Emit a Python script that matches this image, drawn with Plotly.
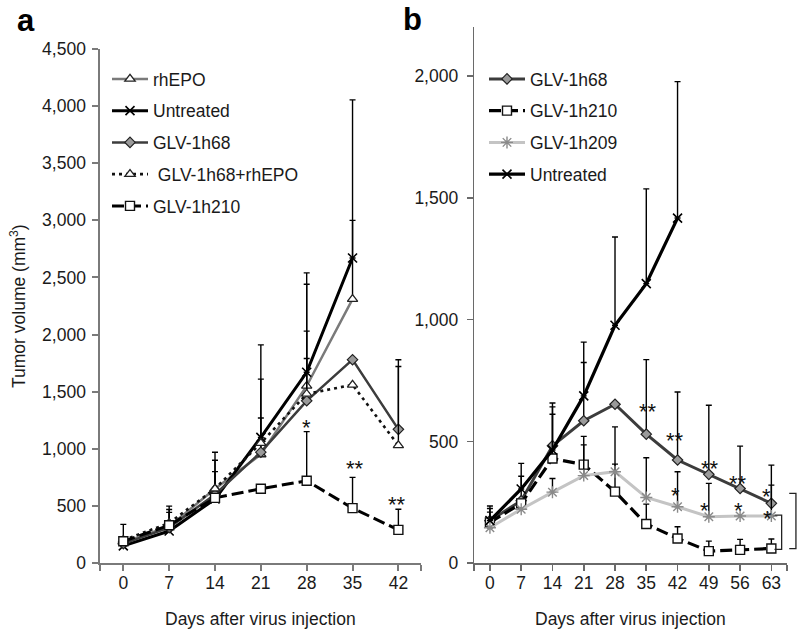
import plotly.graph_objects as go

# ---------------- data ----------------
days_a = [0, 7, 14, 21, 28, 35, 42]
rhepo_a = [180, 320, 650, 950, 1550, 2310]
untreated_a = [150, 280, 560, 1100, 1670, 2670]
h68_a = [170, 310, 600, 970, 1420, 1780, 1170]
h68_epo_a = [200, 350, 650, 1050, 1480, 1560, 1030]
h210_a = [190, 330, 570, 650, 720, 480, 290]

rhepo_a_err = [0, 178, 250, 660, 890, 690]
untreated_a_err = [0, 0, 410, 810, 870, 1385]
h68_a_err = [0, 133, 0, 300, 610, 0, 610]
h68_epo_a_err = [138, 119, 150, 0, 310, 0, 690]
h210_a_err = [0, 0, 0, 0, 430, 270, 180]

days_b = [0, 7, 14, 21, 28, 35, 42, 49, 56, 63]
h68_b = [175, 257, 482, 585, 653, 530, 424, 365, 307, 246]
h210_b = [168, 246, 430, 405, 294, 161, 102, 50, 55, 61]
h209_b = [146, 222, 292, 360, 376, 270, 232, 191, 194, 194]
untreated_b = [175, 305, 465, 687, 977, 1148, 1417]

h68_b_err = [50, 100, 160, 239, 0, 306, 279, 284, 174, 157]
h210_b_err = [42, 0, 182, 116, 113, 82, 48, 41, 43, 39]
h209_b_err = [0, 0, 56, 126, 184, 163, 144, 137, 0, 127]
untreated_b_err = [60, 105, 193, 221, 362, 389, 560]

stars_a_x = [28, 35.4, 41.8]
stars_a_y = [1215, 850, 542]
stars_a_t = ["*", "**", "**"]

stars_b_x = [35.3, 41.4, 49.3, 55.6, 61.9, 41.6, 48.1, 55.7, 62.1]
stars_b_y = [637, 517, 400, 339, 287, 290, 230, 230, 198]
stars_b_t = ["**", "**", "**", "**", "*", "*", "*", "*", "*"]

# brackets (days, value top, value bottom)
brackets_x0 = [67.0, 63.7]
brackets_x1 = [68.5, 65.3]
brackets_top = [287, 198]
brackets_bot = [60, 57]

# ---------------- layout helpers ----------------
W, H = 802, 630
FONT = "Liberation Sans, Arial, Helvetica, sans-serif"
FS = 17.5
TXT = "#1a1a1a"


def px(p):
    return p / W


def py(p):
    return 1 - p / H


XR_A = [-3.5, 45.5]
XR_B = [-3.5, 66.5]
DOM_XA = [px(100.4), px(421.3)]
DOM_XB = [px(474.3), px(787.0)]
DOM_YA = [py(563), py(49)]
DOM_YB = [py(563.3), py(27.3)]

fig = go.Figure()


def err(arr):
    return dict(type="data", array=arr, arrayminus=[0] * len(arr), symmetric=False,
                color="black", thickness=1.4, width=3)


def add(x, y, e, name, color, width, dash, symbol, msize, mfill, mline, mlw, xa, ya, legend):
    fig.add_trace(go.Scatter(
        x=x[:len(y)], y=y, mode="lines+markers", name=name,
        line=dict(color=color, width=width, dash=dash),
        marker=dict(symbol=symbol, size=msize, color=mfill,
                    line=dict(color=mline, width=mlw)),
        error_y=err(e), xaxis=xa, yaxis=ya, legend=legend, legendgroup=name + xa,
    ))


# panel a
add(days_a, rhepo_a, rhepo_a_err, "rhEPO", "#7a7a7a", 2.5, "solid", "triangle-up", 9,
    "white", "#222", 1.3, "x", "y", "legend")
add(days_a, untreated_a, untreated_a_err, "Untreated", "#000", 3, "solid", "x-thin", 9,
    "#000", "#000", 1.6, "x", "y", "legend")
add(days_a, h68_a, h68_a_err, "GLV-1h68", "#3c3c3c", 2.5, "solid", "diamond", 8,
    "#9a9a9a", "#222", 1.2, "x", "y", "legend")
add(days_a, h68_epo_a, h68_epo_a_err, " GLV-1h68+rhEPO", "#111", 2.6, "3px,4px",
    "triangle-up", 9, "white", "#222", 1.3, "x", "y", "legend")
add(days_a, h210_a, h210_a_err, "GLV-1h210", "#000", 3, "12px,5px", "square", 9,
    "white", "#111", 1.4, "x", "y", "legend")

# panel b
add(days_b, h68_b, h68_b_err, "GLV-1h68", "#3c3c3c", 3, "solid", "diamond", 8,
    "#9a9a9a", "#222", 1.2, "x2", "y2", "legend2")
add(days_b, h210_b, h210_b_err, "GLV-1h210", "#000", 3.2, "12px,5px", "square", 9,
    "white", "#111", 1.4, "x2", "y2", "legend2")
add(days_b, h209_b, h209_b_err, "GLV-1h209", "#c4c4c4", 3, "solid", "asterisk-open", 10,
    "#8a8a8a", "#8a8a8a", 1.4, "x2", "y2", "legend2")
add(days_b, untreated_b, untreated_b_err, "Untreated", "#000", 3.2, "solid", "x-thin", 9,
    "#000", "#000", 1.6, "x2", "y2", "legend2")


def xaxis(rng, dom, days, lw, lc):
    return dict(range=rng, domain=dom, showgrid=False, zeroline=False, automargin=False,
                showline=True, linecolor=lc, linewidth=lw, ticks="outside",
                ticklen=6, tickcolor=lc, tickwidth=lw, tickvals=days,
                ticktext=[str(d) for d in days],
                minor=dict(tickvals=[rng[0], rng[1]], ticks="outside", ticklen=6,
                           tickcolor=lc, tickwidth=lw, showgrid=False),
                tickfont=dict(family=FONT, size=FS, color=TXT), ticklabelstandoff=-3,
                fixedrange=True)


def yaxis(rng, dom, lw, lc, standoff):
    return dict(range=rng, domain=dom, showgrid=False, zeroline=False, showline=True,
                automargin=False,
                linecolor=lc, linewidth=lw, ticks="outside", ticklen=6, tickcolor=lc,
                tickwidth=lw, dtick=500, tick0=0, tickformat=",",
                tickfont=dict(family=FONT, size=FS, color=TXT),
                ticklabelstandoff=standoff, fixedrange=True)


xa = xaxis(XR_A, DOM_XA, days_a, 2, "#7a7a7a")
xa["anchor"] = "y"
xb = xaxis(XR_B, DOM_XB, days_b, 1.6, "#6a6a6a")
xb["anchor"] = "y2"
ya = yaxis([0, 4500], DOM_YA, 2, "#7a7a7a", 3)
ya["anchor"] = "x"
yb = yaxis([0, 2200], DOM_YB, 1.6, "#6a6a6a", 5)
yb["anchor"] = "x2"

annotations = []
for x, y, t in zip(stars_a_x, stars_a_y, stars_a_t):
    annotations.append(dict(x=x, y=y, xref="x", yref="y", text=t, showarrow=False,
                            xanchor="center", yanchor="middle",
                            font=dict(family=FONT, size=22, color="#111"), yshift=-3))
for x, y, t in zip(stars_b_x, stars_b_y, stars_b_t):
    annotations.append(dict(x=x, y=y, xref="x2", yref="y2", text=t, showarrow=False,
                            xanchor="center", yanchor="middle",
                            font=dict(family=FONT, size=22, color="#111"), yshift=-3))

# axis titles and panel letters
for cx in [(DOM_XA[0] + DOM_XA[1]) / 2, (DOM_XB[0] + DOM_XB[1]) / 2]:
    annotations.append(dict(x=cx, y=py(619), xref="paper", yref="paper",
                            xanchor="center", yanchor="middle",
                            text="Days after virus injection", showarrow=False,
                            font=dict(family=FONT, size=FS, color=TXT)))
annotations.append(dict(x=px(18), y=(DOM_YA[0] + DOM_YA[1]) / 2, xref="paper", yref="paper",
                        xanchor="center", yanchor="middle",
                        text="Tumor volume (mm<sup>3</sup>)", textangle=-90, showarrow=False,
                        font=dict(family=FONT, size=FS, color=TXT)))
annotations.append(dict(x=px(26), y=py(21), xref="paper", yref="paper", text="<b>a</b>",
                        xanchor="center", yanchor="middle",
                        showarrow=False, font=dict(family=FONT, size=31, color="#000")))
annotations.append(dict(x=px(412), y=py(19), xref="paper", yref="paper", text="<b>b</b>",
                        xanchor="center", yanchor="middle",
                        showarrow=False, font=dict(family=FONT, size=31, color="#000")))

shapes = []
span = XR_B[1] - XR_B[0]
for x0, x1, t, b in zip(brackets_x0, brackets_x1, brackets_top, brackets_bot):
    d0 = (x0 - XR_B[0]) / span
    d1 = (x1 - XR_B[0]) / span
    shapes.append(dict(type="path", xref="x2 domain", yref="y2",
                       path=f"M {d0} {t} L {d1} {t} L {d1} {b} L {d0} {b}",
                       line=dict(color="#222", width=1.3)))

legend_common = dict(font=dict(family=FONT, size=FS, color=TXT), bgcolor="rgba(0,0,0,0)",
                     borderwidth=0, tracegroupgap=6, itemwidth=36, xanchor="left",
                     yanchor="top", traceorder="grouped")

fig.update_layout(
    template="none",
    width=W, height=H, margin=dict(l=0, r=0, t=0, b=0, pad=0, autoexpand=False),
    paper_bgcolor="white", plot_bgcolor="white",
    xaxis=xa, yaxis=ya, xaxis2=xb, yaxis2=yb,
    annotations=annotations, shapes=shapes,
    legend=dict(x=px(107), y=py(61), **legend_common),
    legend2=dict(x=px(484), y=py(61), **legend_common),
    showlegend=True,
)

fig.write_html("out.html",
               config={"displayModeBar": False, "staticPlot": True},
               post_script="document.body.style.margin='0px';"
                           "document.body.style.overflow='hidden';")
